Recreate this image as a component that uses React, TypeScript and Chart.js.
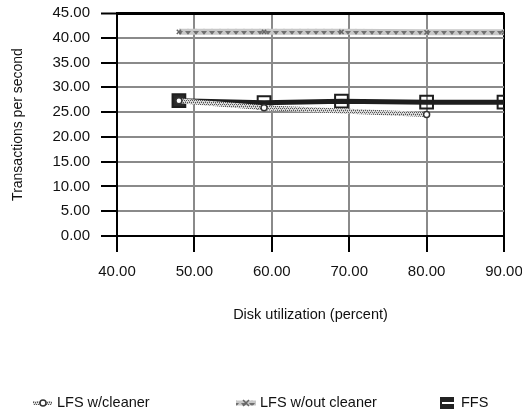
import React, { useEffect, useRef } from "react";
import { Chart, registerables } from "chart.js";

Chart.register(...registerables);

const xTicksMin = 40;
const xTicksMax = 90;
const xStep = 10;
const yMin = 0;
const yMax = 45;
const yStep = 5;

const seriesNames = ["LFS w/cleaner", "LFS w/out cleaner", "FFS"];

const cleanerX = [48, 59, 80];
const cleanerY = [27.3, 25.9, 24.5];

const noCleanerX = [48, 59, 69, 80, 90];
const noCleanerY = [41.2, 41.2, 41.2, 41.1, 41.1];

const ffsX = [48, 59, 69, 80, 90];
const ffsY = [27.3, 26.9, 27.2, 27.0, 27.0];

const xTitle = "Disk utilization (percent)";
const yTitle = "Transactions per second";

const FONT = "'Liberation Sans', Arial, Helvetica, sans-serif";

function makeCleanerPattern(ctx: CanvasRenderingContext2D) {
  const c = document.createElement("canvas");
  c.width = 4;
  c.height = 4;
  const g = c.getContext("2d")!;
  g.fillStyle = "#dcdcdc";
  g.fillRect(0, 0, 4, 4);
  g.fillStyle = "#555";
  g.fillRect(0, 0, 1, 1);
  g.fillRect(2, 0, 1, 1);
  g.fillRect(1, 2, 1, 1);
  g.fillRect(3, 2, 1, 1);
  g.fillStyle = "#999";
  g.fillRect(1, 1, 1, 1);
  g.fillRect(3, 3, 1, 1);
  return ctx.createPattern(c, "repeat")!;
}

function makeNoCleanerPattern(ctx: CanvasRenderingContext2D) {
  const c = document.createElement("canvas");
  c.width = 8;
  c.height = 6;
  const g = c.getContext("2d")!;
  g.fillStyle = "#c8c8c8";
  g.fillRect(0, 0, 8, 6);
  g.fillStyle = "#707070";
  g.beginPath();
  g.moveTo(1, 1);
  g.lineTo(7, 1);
  g.lineTo(4, 5);
  g.closePath();
  g.fill();
  return ctx.createPattern(c, "repeat")!;
}

export default function App() {
  const ref = useRef<HTMLCanvasElement | null>(null);

  useEffect(() => {
    const canvas = ref.current;
    if (!canvas) return;
    const ctx = canvas.getContext("2d")!;
    const cleanerPat = makeCleanerPattern(ctx);
    const noCleanerPat = makeNoCleanerPattern(ctx);

    const legendPlugin = {
      id: "customLegend",
      afterDraw(chart: any) {
        const c: CanvasRenderingContext2D = chart.ctx;
        const y = 403;
        c.save();
        c.strokeStyle = cleanerPat;
        c.lineWidth = 4;
        c.beginPath();
        c.moveTo(33, y);
        c.lineTo(52, y);
        c.stroke();
        c.fillStyle = "#fff";
        c.strokeStyle = "#333";
        c.lineWidth = 1.5;
        c.beginPath();
        c.arc(43, y, 3, 0, Math.PI * 2);
        c.fill();
        c.stroke();
        c.strokeStyle = noCleanerPat;
        c.lineWidth = 5;
        c.beginPath();
        c.moveTo(236, y);
        c.lineTo(256, y);
        c.stroke();
        c.strokeStyle = "#666";
        c.lineWidth = 1.5;
        c.beginPath();
        c.moveTo(243, y - 3);
        c.lineTo(249, y + 3);
        c.moveTo(249, y - 3);
        c.lineTo(243, y + 3);
        c.stroke();
        c.fillStyle = "#222";
        c.fillRect(440, y - 6, 14, 12);
        c.fillStyle = "#fff";
        c.fillRect(442, y - 1, 12, 2);
        c.fillStyle = "#111";
        c.font = `14.5px ${FONT}`;
        c.textBaseline = "middle";
        c.textAlign = "left";
        c.fillText(seriesNames[0], 57, y);
        c.fillText(seriesNames[1], 260, y);
        c.fillText(seriesNames[2], 461, y);
        c.restore();
      },
    };

    const chart = new Chart(canvas, {
      type: "line",
      data: {
        datasets: [
          {
            label: seriesNames[0],
            data: cleanerX.map((x, i) => ({ x, y: cleanerY[i] })),
            borderColor: cleanerPat as any,
            borderWidth: 5,
            pointStyle: "circle",
            pointRadius: 3,
            pointBorderColor: "#333",
            pointBackgroundColor: "#fff",
            pointBorderWidth: 1.5,
            tension: 0,
          },
          {
            label: seriesNames[1],
            data: noCleanerX.map((x, i) => ({ x, y: noCleanerY[i] })),
            borderColor: noCleanerPat as any,
            borderWidth: 6,
            pointStyle: "crossRot",
            pointRadius: 3,
            pointBorderColor: "#666",
            pointBorderWidth: 1.5,
            tension: 0,
          },
          {
            label: seriesNames[2],
            data: ffsX.map((x, i) => ({ x, y: ffsY[i] })),
            borderColor: "#1e1e1e",
            borderWidth: 5,
            pointStyle: "rect",
            pointRadius: 9,
            pointBorderColor: "#1e1e1e",
            pointBackgroundColor: ffsX.map((_, i) => (i === 0 ? "#2a2a2a" : "rgba(0,0,0,0)")),
            pointBorderWidth: 2,
            tension: 0,
          },
        ],
      },
      options: {
        responsive: false,
        animation: false,
        events: [],
        layout: { padding: { left: 0, top: 13, right: 18, bottom: 87 } },
        plugins: {
          legend: { display: false },
          tooltip: { enabled: false },
        },
        scales: {
          x: {
            type: "linear",
            min: xTicksMin,
            max: xTicksMax,
            afterFit: (s: any) => {
              s.height = 88;
              s.paddingLeft = 0;
              s.paddingRight = 0;
            },
            ticks: {
              stepSize: xStep,
              color: "#111",
              font: { family: FONT, size: 15 },
              padding: 11,
              maxRotation: 0,
              callback: (v: any) => Number(v).toFixed(2),
            },
            grid: {
              color: (c: any) => (c.tick && c.tick.value === xTicksMax ? "#000" : "#8a8a8a"),
              lineWidth: 2,
              tickLength: 16,
              tickColor: "#000",
              tickWidth: 2,
            },
            border: { display: true, color: "#000", width: 2 },
            title: {
              display: true,
              text: xTitle,
              color: "#111",
              font: { family: FONT, size: 14.5 },
              padding: 0,
            },
          },
          y: {
            type: "linear",
            min: yMin,
            max: yMax,
            afterFit: (s: any) => {
              s.width = 117;
              s.paddingTop = 0;
              s.paddingBottom = 0;
            },
            ticks: {
              stepSize: yStep,
              color: "#111",
              font: { family: FONT, size: 15 },
              padding: 11,
              callback: (v: any) => Number(v).toFixed(2),
            },
            grid: {
              color: (c: any) => (c.tick && c.tick.value === yMax ? "#000" : "#8a8a8a"),
              lineWidth: (c: any) => (c.tick && c.tick.value === yMax ? 3 : 2),
              tickLength: 16,
              tickColor: "#000",
              tickWidth: 2,
            },
            border: { display: true, color: "#000", width: 2 },
            title: {
              display: true,
              text: yTitle,
              color: "#111",
              font: { family: FONT, size: 14 },
              padding: { top: 9.6, bottom: 0 },
            },
          },
        },
      },
      plugins: [legendPlugin],
    });

    return () => chart.destroy();
  }, []);

  return (
    <div style={{ position: "absolute", left: 0, top: 0, width: 522, height: 411, background: "#fff" }}>
      <canvas ref={ref} width={522} height={411} />
    </div>
  );
}
